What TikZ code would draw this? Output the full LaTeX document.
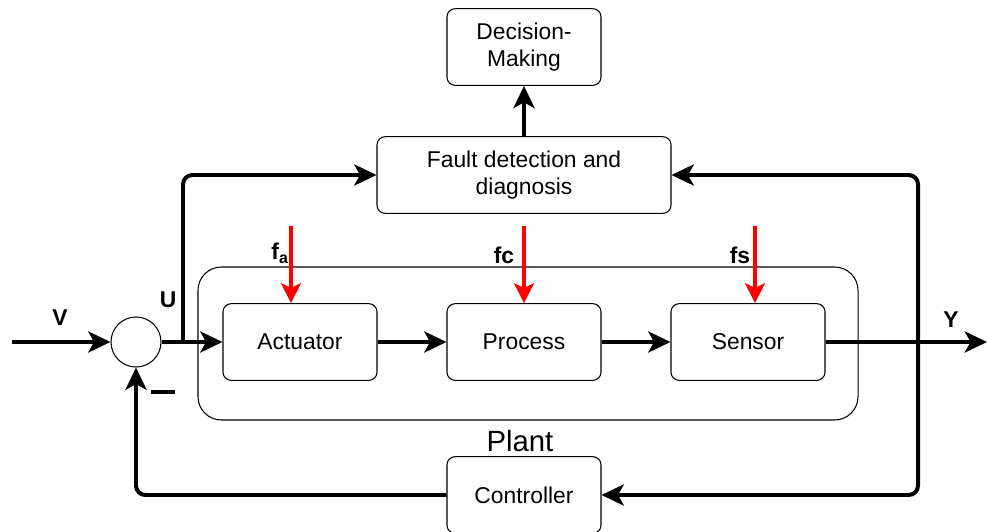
\documentclass[tikz,border=0pt]{standalone}
\usepackage{fontspec}
\setmainfont{Liberation Sans}
\usetikzlibrary{arrows.meta}

\tikzset{
  blk/.style={draw, line width=0.9pt, rounded corners=7pt, minimum width=4.62cm,
    minimum height=2.3cm, align=center, font=\fontsize{19.5}{22.5}\selectfont},
  sig/.style={line width=3.4pt, -{Stealth[length=19pt,width=18pt,inset=5pt]}},
  flt/.style={red, line width=2.6pt, -{Stealth[length=17pt,width=17pt,inset=4pt]}},
  lbl/.style={font=\fontsize{19.5}{22.5}\selectfont\bfseries}
}

\begin{document}
\begin{tikzpicture}[x=0.03cm, y=-0.03cm]
        \useasboundingbox (0,0) rectangle (987,531);
        % ==== PLANT ====
        \node[draw, line width=0.9pt, rounded corners=20pt, minimum width=19.8cm, minimum height=4.59cm] (plant) at (528,343.5) {};
        \node[font=\fontsize{25}{30}\selectfont] (plantlbl) at (520,441) {Plant};
        \node[blk] (act) at (300,342) {Actuator};
        \node[blk] (proc) at (524,342) {Process};
        \node[blk] (sen) at (748,342) {Sensor};
        % ==== FDD AND CONTROL ====
        \node[blk] (dec) at (524,47) {Decision-\\Making};
        \node[blk, minimum width=8.82cm] (fdd) at (524,175) {Fault detection and\\diagnosis};
        \node[blk] (ctrl) at (524,495) {Controller};
        \node[draw, circle, line width=0.9pt, minimum size=1.5cm, inner sep=0pt] (sum) at (136,342) {};
        % ==== SIGNALS ====
        \coordinate (vin) at (12,342);
        \coordinate (ubr) at (183,342);
        \coordinate (ybr) at (918,342);
        \coordinate (yout) at (987,342);
        \draw[sig] (vin) -- (sum);
        \draw[sig] (sum) -- (act);
        \draw[sig, rounded corners=8pt] (ubr) |- (fdd);
        \draw[sig] (act) -- (proc);
        \draw[sig] (proc) -- (sen);
        \draw[sig] (sen) -- (yout);
        \draw[sig, rounded corners=8pt] (ybr) |- (fdd);
        \draw[sig, rounded corners=8pt] (ybr) |- (ctrl);
        \draw[sig, rounded corners=8pt] (ctrl) -| (sum);
        \draw[sig] (fdd) -- (dec);
        \node[lbl] (v) at (60,318) {V};
        \node[lbl] (u) at (168,300) {U};
        \node[lbl] (y) at (951,320) {Y};
        \node (minus) at (163,392) {\rule{0.72cm}{3.4pt}};
        % ==== FAULTS ====
        \coordinate (fa) at (291,226);
        \coordinate (fc) at (524,226);
        \coordinate (fs) at (755,226);
        \draw[flt] (fa) -- (fa |- act.north);
        \draw[flt] (fc) -- (proc);
        \draw[flt] (fs) -- (fs |- sen.north);
        \node[lbl] (fal) at (280,253) {f\textsubscript{a}};
        \node[lbl] (fcl) at (504,255) {fc};
        \node[lbl] (fsl) at (740,255) {fs};
\end{tikzpicture}
\end{document}
